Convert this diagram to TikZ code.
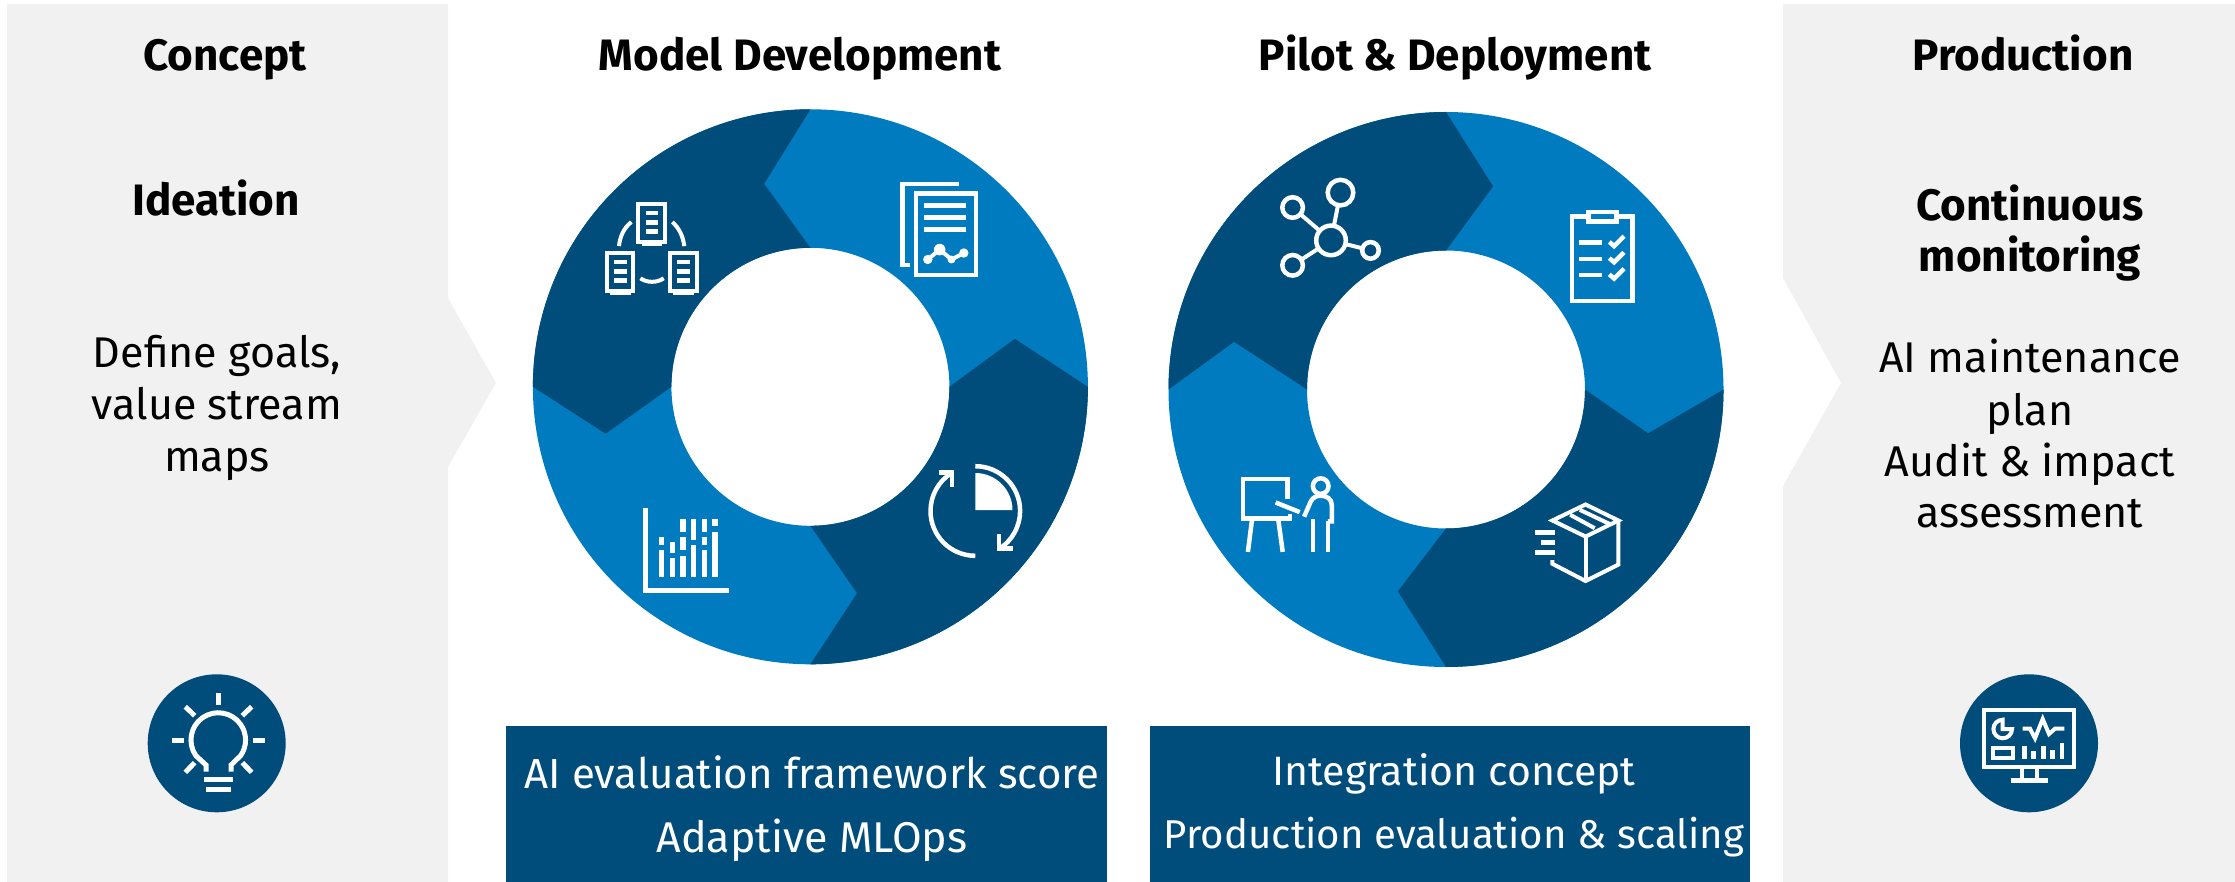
\documentclass[tikz,border=0pt]{standalone}
\usepackage{fontspec}
\setmainfont{Fira Sans}
\usepackage{xcolor}
\definecolor{panelgrey}{HTML}{F1F1F1}
\definecolor{darkblue}{HTML}{004C7A}
\definecolor{midblue}{HTML}{007BC0}
\usetikzlibrary{positioning,calc}
\tikzset{
  headtext/.style={anchor=base, inner sep=0pt, text=black, font=\fontsize{44}{52}\selectfont\bfseries},
  bodytext/.style={anchor=base, inner sep=0pt, text=black, font=\fontsize{43}{52}\selectfont},
  boxtext/.style={anchor=base, inner sep=0pt, text=white, font=\fontsize{42}{50}\selectfont},
  icon/.style={draw=white, line width=4.5pt, fill=none},
  hubnode/.style={circle, draw=white, line width=4.5pt, inner sep=0pt, outer sep=0pt},
}

\begin{document}
\begin{tikzpicture}[x=1pt,y=-1pt]
    \useasboundingbox (0,0) rectangle (2235,882);

    \fill[panelgrey] (7,4) -- (448,4) -- (448,298) -- (496,383) -- (448,467) -- (448,882) -- (7,882) -- cycle;
    \fill[panelgrey] (1783,4) -- (2235,4) -- (2235,882) -- (1783,882) -- (1783,486) -- (1841,383) -- (1783,278) -- cycle;

    \fill[midblue, even odd rule] (810.4,386.8) circle[radius=277.5] (810.4,386.8) circle[radius=139];
    \fill[darkblue] (810.4,109.3) -- (764.1,183.8) -- (810.4,247.8) arc[start angle=270, end angle=180, radius=139] -- (605.6,433.7) -- (532.9,386.8) arc[start angle=180, end angle=270, radius=277.5] -- cycle;
    \fill[darkblue] (949.4,386.8) -- (1014.8,338.8) -- (1087.9,386.8) arc[start angle=0, end angle=90, radius=277.5] -- (857,593.2) -- (810.4,525.8) arc[start angle=90, end angle=0, radius=139] -- cycle;

    \fill[midblue, even odd rule] (1446,389.5) circle[radius=277.5] (1446,389.5) circle[radius=139];
    \fill[darkblue] (1446,112) -- (1493.1,186.4) -- (1446,250.5) arc[start angle=270, end angle=180, radius=139] -- (1234.1,341.8) -- (1168.5,389.5) arc[start angle=180, end angle=270, radius=277.5] -- cycle;
    \fill[darkblue] (1585,389.5) -- (1648.1,433.3) -- (1723.5,389.5) arc[start angle=0, end angle=90, radius=277.5] -- (1397.8,591.3) -- (1446,528.5) arc[start angle=90, end angle=0, radius=139] -- cycle;

    \fill[darkblue] (506,726) rectangle (1107,882);
    \fill[darkblue] (1150,726) rectangle (1750,882);
    \fill[darkblue] (216.7,743.3) circle[radius=69];
    \fill[darkblue] (2029,743.3) circle[radius=69];

    \node[headtext] (concept) at (225,71) {Concept};
    \node[headtext] (modeldev) at (800,71) {Model Development};
    \node[headtext] (pilot) at (1455,71) {Pilot \& Deployment};
    \node[headtext] (production) at (2023,71) {Production};
    \node[headtext] (ideation) at (216,216) {Ideation};
    \node[headtext] (continuous) at (2030,221) {Continuous};
    \node[headtext] (monitoring) at (2030,272) {monitoring};

    \node[bodytext] (goals) at (217,367) {Define goals,};
    \node[bodytext] (stream) at (217,419) {value stream};
    \node[bodytext] (maps) at (217,471) {maps};
    \node[bodytext] (maintenance) at (2030,373) {AI maintenance};
    \node[bodytext] (plan) at (2030,425) {plan};
    \node[bodytext] (audit) at (2030,476) {Audit \& impact};
    \node[bodytext] (assessment) at (2030,527) {assessment};

    \node[boxtext] (framework) at (812,788) {AI evaluation framework score};
    \node[boxtext, font=\fontsize{43}{50}\selectfont] (mlops) at (812,852) {Adaptive MLOps};
    \node[boxtext, font=\fontsize{41}{50}\selectfont] (integration) at (1454,785) {Integration concept};
    \node[boxtext, font=\fontsize{40.2}{50}\selectfont] (scaling) at (1454,848) {Production evaluation \& scaling};

    \draw[icon] (958.7,183.8) -- (902.5,183.8) -- (902.5,264.9) -- (909.6,264.9);
    \draw[icon] (916,193.3) rectangle (976,274.8);
    \foreach \ly in {205.6,217.4,229.3}
      \draw[icon] (923.5,\ly) -- (966.2,\ly);
    \draw[icon, line width=4pt] (927.8,259.5) -- (939.7,249.6) -- (951.5,259.5) -- (963.8,253);
    \fill[white] (927.8,259.5) circle[radius=4.7] (939.7,249.6) circle[radius=5.8] (951.5,259.5) circle[radius=4] (963.8,253) circle[radius=4.7];

    \foreach \sx/\sy in {0/0,-31.6/49,31.6/49} {
      \begin{scope}[shift={(\sx,\sy)}]
        \draw[icon, line width=4pt] (638.4,203.7) rectangle (664.9,241.9);
        \fill[white] (641.6,243.8) rectangle (662.1,246.1);
        \foreach \ly in {213.2,222.4,231.6}
          \draw[icon] (645.5,\ly) -- (658.2,\ly);
      \end{scope}
    }
    \draw[icon, line width=4pt] (619,246.1) .. controls (620,236) and (624,228) .. (631.3,222);
    \draw[icon, line width=4pt] (684.3,246.1) .. controls (683,236) and (679,228) .. (672.4,222);
    \draw[icon, line width=4pt] (640.4,278.3) .. controls (647,283) and (657,283) .. (663.7,278.3);

    \draw[icon, line width=5pt] (645.5,507.9) -- (645.5,590.2) -- (728.5,590.2);
    \foreach \bx/\bt/\bb in {661.7/537/545,661.7/550.4/577.2,672.4/542.3/553.1,672.4/558.4/577.2,683.1/518.6/531.6,683.1/537/550.4,683.1/555.7/577.2,693.7/518.6/539.7,693.7/545/577.2,704.4/518.6/531.6,704.4/537/545,704.4/550.4/577.2,715.1/518.6/526.3,715.1/531.6/577.2}
      \draw[icon, line width=5.5pt] (\bx,\bt) -- (\bx,\bb);

    \draw[icon] (975.3,466.2) arc[start angle=270, end angle=417.7, radius=44.8];
    \draw[icon] (975.3,555.8) arc[start angle=90, end angle=238.6, radius=44.8];
    \draw[icon] (938.9,472.7) -- (951.9,472.7) -- (951.9,487.3);
    \draw[icon] (999,533.9) -- (999,548.5) -- (1012.8,548.5);
    \fill[white] (975.3,510.2) -- (975.3,473) arc[start angle=270, end angle=360, radius=37.2] -- cycle;

    \node[hubnode, minimum size=29.6pt] (hub) at (1331,240.4) {};
    \node[hubnode, minimum size=25.6pt] (sattop) at (1340.5,192.6) {};
    \node[hubnode, minimum size=20.6pt] (satleft) at (1292.6,207.5) {};
    \node[hubnode, minimum size=20.6pt] (satlow) at (1292.6,265.3) {};
    \node[hubnode, minimum size=16.6pt] (satright) at (1370.5,250.4) {};
    \foreach \sat in {sattop,satleft,satlow,satright}
      \draw[icon, line width=4pt] (hub) -- (\sat);

    \draw[icon] (1571.8,216.7) rectangle (1632.7,301.2);
    \draw[icon, fill=midblue] (1588.4,212.1) rectangle (1616.5,221.6);
    \foreach \ly in {0,16.2,32.5} {
      \draw[icon] (1578.9,242.7+\ly) -- (1601.8,242.7+\ly);
      \draw[icon] (1609.3,241.9+\ly) -- (1614.1,246.1+\ly) -- (1624,236.2+\ly);
    }

    \draw[icon, line width=4pt] (1585.6,504.5) -- (1618.4,520.5) -- (1585.6,536.6) -- (1552.4,520.5) -- cycle;
    \draw[icon, line width=4pt] (1618.4,520.5) -- (1618.4,564.6) -- (1585.6,581) -- (1552.4,563.8) -- (1552.4,560);
    \draw[icon, line width=4pt] (1585.6,536.6) -- (1585.6,581);
    \draw[icon, line width=4pt] (1570.2,514.8) -- (1594.7,528.2);
    \draw[icon, line width=4pt] (1579.7,509.8) -- (1610.5,524.4);
    \draw[icon] (1535.4,532.4) -- (1555.2,532.4);
    \draw[icon] (1540.5,542.3) -- (1555.2,542.3);
    \draw[icon] (1535.4,552.3) -- (1555.2,552.3);

    \draw[icon] (1287.5,498.7) -- (1287.5,478.8) -- (1242.8,478.8) -- (1242.8,518.6) -- (1289.9,518.6) -- (1289.9,514);
    \draw[icon] (1251.9,520.5) -- (1247.9,551.9);
    \draw[icon] (1278.4,520.5) -- (1282.7,551.9);
    \draw[icon] (1275.6,502.5) -- (1299.7,512.1);
    \draw[icon] (1320.7,486.1) circle[radius=7.8];
    \draw[icon] (1304.1,516.7) -- (1310.8,501.4) .. controls (1313,497) and (1317,495.7) .. (1320.7,495.7) .. controls (1327,495.7) and (1331.8,499) .. (1331.8,505.2) -- (1331.8,521.3) -- (1327.8,521.3);
    \draw[icon] (1313.2,518.6) -- (1313.2,551.9);
    \draw[icon] (1327.8,521.3) -- (1327.8,551.9);

    \draw[icon, line width=5pt] (206,771.7) -- (206,765) -- (195.9,755.7) arc[start angle=145, end angle=395, radius=27.3] -- (231,765) -- (231,771.7);
    \draw[icon, line width=5pt] (203.7,779.3) -- (233.3,779.3);
    \draw[icon, line width=5pt] (206,789.3) -- (231,789.3);
    \draw[icon, line width=5pt] (218.3,693.3) -- (218.3,705.3);
    \draw[icon, line width=5pt] (171.7,740) -- (184,740);
    \draw[icon, line width=5pt] (253,740) -- (265.3,740);
    \draw[icon, line width=5pt] (185.3,706.7) -- (194.7,715.7);
    \draw[icon, line width=5pt] (251.7,706.7) -- (242.3,715.7);
    \draw[icon, line width=5pt] (194.7,762.7) -- (185.3,772.3);
    \draw[icon, line width=5pt] (242.3,762.7) -- (251.7,772.3);

    \draw[icon, line width=4pt] (1984.3,710) rectangle (2074.3,767);
    \draw[icon, line width=4pt] (2022.3,768) -- (2022.3,780);
    \draw[icon, line width=4pt] (2036.7,768) -- (2036.7,780);
    \draw[icon, line width=4.5pt] (2010.7,780.7) -- (2048.3,780.7);
    \draw[icon, line width=4pt] (2002.7,729) -- (2012,729) arc[start angle=0, end angle=270, radius=9.3] -- cycle;
    \draw[icon, line width=4pt] (2022.7,728.7) -- (2030,728.7) -- (2035,738.3) -- (2042.7,719) -- (2049,734) -- (2055,728.7) -- (2064.3,728.7);
    \draw[icon, line width=4pt] (1993.3,748.3) rectangle (2013.3,758.3);
    \foreach \bx/\bt in {2024.3/745.7,2033.7/751,2043.3/745.7,2052.7/750,2062/743.3}
      \draw[icon, line width=4.7pt] (\bx,\bt) -- (\bx,759.3);
\end{tikzpicture}
\end{document}
